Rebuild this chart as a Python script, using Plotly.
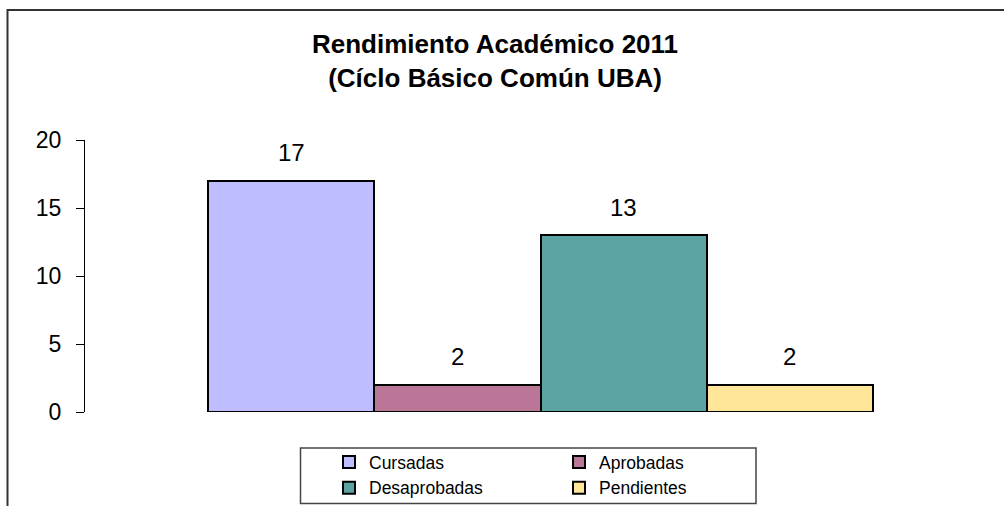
import plotly.graph_objects as go

# ---- data ----
categories = ["Cursadas", "Aprobadas", "Desaprobadas", "Pendientes"]
values = [17, 2, 13, 2]
colors = ["#BDBDFF", "#BA7697", "#5CA4A4", "#FFE698"]
legend_ids = ["legend", "legend2", "legend", "legend2"]
title_text = "Rendimiento Académico 2011<br>(Cíclo Básico Común UBA)"
y_ticks = [0, 5, 10, 15, 20]

W, H = 1004, 506
L, R, T, B = 85, 8, 140, 94
pw, ph = W - L - R, H - T - B


def px(x):
    return (x - L) / pw


def py(y):
    return (H - B - y) / ph


FONT = "Arial, Liberation Sans, sans-serif"

fig = go.Figure()
for cat, val, col, lg in zip(categories, values, colors, legend_ids):
    fig.add_trace(go.Bar(
        x=[cat], y=[val], name=cat,
        marker=dict(color=col, line=dict(color="black", width=2)),
        legend=lg, legendgroup=cat,
        hoverinfo="skip",
    ))

annotations = []
for cat, val in zip(categories, values):
    annotations.append(dict(
        x=cat, y=val, xref="x", yref="y", text=str(val), showarrow=False,
        yanchor="middle", yshift=28, font=dict(family=FONT, size=24, color="black"),
    ))
annotations.append(dict(
    x=px(495), y=py(60.5), xref="paper", yref="paper",
    text="<b>" + title_text.replace("<br>", "</b><br><b>") + "</b>",
    showarrow=False, xanchor="center", yanchor="middle",
    font=dict(family=FONT, size=26, color="black"),
))

shapes = [
    # outer chart frame (extends beyond the window on right/bottom)
    dict(type="rect", xref="paper", yref="paper",
         x0=px(7.5), x1=px(1100), y0=py(10), y1=py(600),
         line=dict(color="#333333", width=2), layer="below"),
    # legend box
    dict(type="rect", xref="paper", yref="paper",
         x0=px(300.5), x1=px(756), y0=py(448), y1=py(503.5),
         line=dict(color="#444444", width=1.5), layer="below"),
]

legend_common = dict(
    orientation="v", bgcolor="rgba(0,0,0,0)", borderwidth=0,
    font=dict(family=FONT, size=17.5, color="black"),
    traceorder="grouped", tracegroupgap=0,
    xanchor="left", yanchor="top",
)

fig.update_layout(
    width=W, height=H,
    margin=dict(l=L, r=R, t=T, b=B, pad=0, autoexpand=False),
    paper_bgcolor="white", plot_bgcolor="white",
    barmode="overlay", bargap=0,
    showlegend=True,
    legend=dict(x=px(329), y=py(444), **legend_common),
    legend2=dict(x=px(559), y=py(444), **legend_common),
    xaxis=dict(type="category", range=[-1.2423, 4.2423], visible=False, fixedrange=True),
    yaxis=dict(range=[0, 20], tickvals=y_ticks, showgrid=False, zeroline=False,
               showline=True, linecolor="black", linewidth=1,
               ticks="outside", ticklen=8, tickcolor="black", tickwidth=1,
               ticklabelstandoff=10,
               tickfont=dict(family=FONT, size=23, color="black"), fixedrange=True),
    annotations=annotations,
    shapes=shapes,
)

fig.write_html(
    "out.html",
    config={"displayModeBar": False},
    post_script="document.body.style.margin='0';document.body.style.overflow='hidden';",
)
